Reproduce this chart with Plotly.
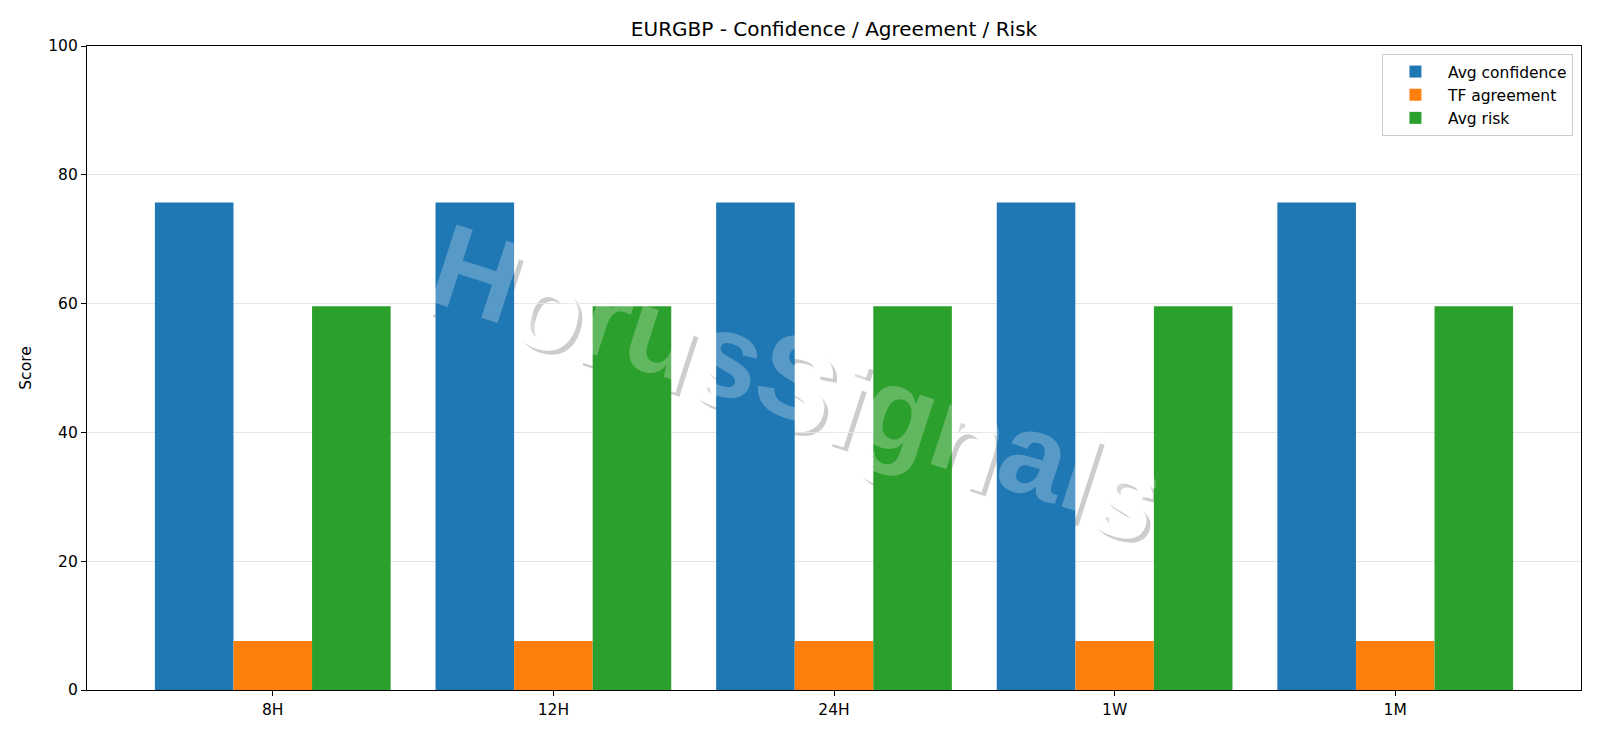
import plotly.graph_objects as go

categories = ["8H", "12H", "24H", "1W", "1M"]
avg_confidence = [75.7, 75.7, 75.7, 75.7, 75.7]
tf_agreement = [7.6, 7.6, 7.6, 7.6, 7.6]
avg_risk = [59.6, 59.6, 59.6, 59.6, 59.6]
y_ticks = [0, 20, 40, 60, 80, 100]

W, H = 1600, 738
L, R, T, B = 87, 19, 46, 48
FONT = "DejaVu Sans"

fig = go.Figure()
fig.add_trace(go.Bar(x=categories, y=avg_confidence, name="Avg confidence",
                     marker=dict(color="#1f77b4", line=dict(width=0))))
fig.add_trace(go.Bar(x=categories, y=tf_agreement, name="TF agreement",
                     marker=dict(color="#ff7f0e", line=dict(width=0))))
fig.add_trace(go.Bar(x=categories, y=avg_risk, name="Avg risk",
                     marker=dict(color="#2ca02c", line=dict(width=0))))

# watermark
pw = W - L - R
ph = H - T - B
cx, cy = 0.4765, 0.484
wm_text = "<b>HorusSignals</b>"
wm_size = 118
wm_angle = 18
dx, dy = 4 / pw, -4 / ph
for (ox, oy, col) in [(dx, dy, "rgb(205,205,205)"), (0, 0, "white")]:
    fig.add_shape(type="rect", xref="paper", yref="paper",
                  x0=cx + ox, x1=cx + ox, y0=cy + oy, y1=cy + oy,
                  line=dict(width=0), layer="below",
                  label=dict(text=wm_text, textangle=wm_angle,
                             textposition="middle center",
                             font=dict(family="Liberation Sans", size=wm_size, color=col)))
fig.add_annotation(text=wm_text, xref="paper", yref="paper", x=cx, y=cy,
                   showarrow=False, textangle=wm_angle,
                   font=dict(family="Liberation Sans", size=wm_size,
                             color="rgba(255,255,255,0.25)"))

fig.update_layout(
    width=W, height=H,
    margin=dict(l=L, r=R, t=T, b=B, pad=0),
    paper_bgcolor="white", plot_bgcolor="white",
    barmode="group", bargap=0.16, bargroupgap=0,
    font=dict(family=FONT, size=15.5, color="black"),
    title=dict(text="EURGBP - Confidence / Agreement / Risk",
               x=(L + pw / 2) / W, xanchor="center", xref="container",
               y=(H - 28.5) / H, yanchor="middle", yref="container",
               font=dict(family=FONT, size=20, color="black")),
    legend=dict(x=0.9946, y=0.9876, xanchor="right", yanchor="top",
                bgcolor="white", bordercolor="#cccccc", borderwidth=1,
                font=dict(family=FONT, size=15.5, color="black"),
                tracegroupgap=0, itemwidth=55),
    showlegend=True,
)
fig.update_xaxes(
    range=[-0.662, 4.662], showline=True, linecolor="black", linewidth=1.3,
    mirror=True, ticks="outside", ticklen=5, tickwidth=1.2, tickcolor="black",
    showgrid=False, zeroline=False, tickfont=dict(family=FONT, size=15.5, color="black"),
)
fig.update_yaxes(
    range=[0, 100], tickvals=y_ticks, showline=True, linecolor="black", linewidth=1.3,
    mirror=True, ticks="outside", ticklen=5, tickwidth=1.2, tickcolor="black",
    showgrid=True, gridcolor="#e5e5e5", gridwidth=1, zeroline=False,
    tickfont=dict(family=FONT, size=15.5, color="black"),
    title=dict(text="Score", standoff=12, font=dict(family=FONT, size=15.5, color="black")),
)

fig.write_html("out.html")
